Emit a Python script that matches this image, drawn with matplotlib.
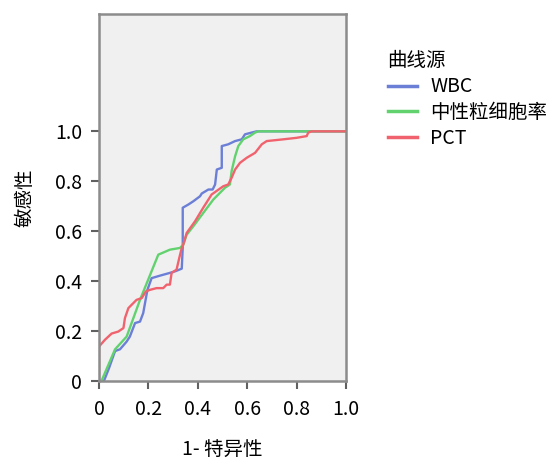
import matplotlib
matplotlib.use('Agg')
import matplotlib.pyplot as plt

plt.rcParams['font.family'] = ['Noto Sans CJK SC', 'DejaVu Sans']

# ROC 曲线数据 (1-特异性, 敏感性)
wbc_x = [0.0, 0.02, 0.04, 0.065, 0.085, 0.112, 0.125, 0.146, 0.166, 0.179, 0.196, 0.213,
         0.247, 0.287, 0.31, 0.335, 0.339, 0.339, 0.362, 0.382, 0.409, 0.416, 0.443, 0.46,
         0.47, 0.477, 0.497, 0.497, 0.523, 0.551, 0.578, 0.591, 0.618, 0.638, 1.0]
wbc_y = [0.0, 0.0, 0.05, 0.12, 0.127, 0.158, 0.178, 0.232, 0.238, 0.272, 0.365, 0.412,
         0.422, 0.433, 0.44, 0.45, 0.534, 0.694, 0.707, 0.72, 0.74, 0.751, 0.767, 0.767,
         0.787, 0.847, 0.854, 0.941, 0.948, 0.961, 0.968, 0.988, 0.995, 1.0, 1.0]

neu_x = [0.0, 0.01, 0.065, 0.112, 0.166, 0.24, 0.287, 0.328, 0.341, 0.355, 0.382, 0.422,
         0.463, 0.51, 0.53, 0.537, 0.551, 0.564, 0.584, 0.611, 0.632, 0.645, 1.0]
neu_y = [0.0, 0.0, 0.127, 0.178, 0.325, 0.506, 0.526, 0.533, 0.546, 0.586, 0.62, 0.673,
         0.727, 0.774, 0.787, 0.841, 0.9, 0.941, 0.968, 0.981, 0.995, 1.0, 1.0]

pct_x = [0.0, 0.0, 0.024, 0.051, 0.078, 0.099, 0.105, 0.119, 0.132, 0.152, 0.173, 0.19,
         0.206, 0.233, 0.26, 0.274, 0.287, 0.294, 0.314, 0.325, 0.335, 0.341, 0.355, 0.389,
         0.422, 0.456, 0.503, 0.523, 0.537, 0.551, 0.571, 0.598, 0.632, 0.659, 0.679, 0.746,
         0.8, 0.841, 0.847, 0.861, 1.0]
pct_y = [0.0, 0.138, 0.165, 0.19, 0.198, 0.212, 0.252, 0.292, 0.305, 0.325, 0.332, 0.359,
         0.365, 0.372, 0.372, 0.386, 0.386, 0.433, 0.446, 0.493, 0.533, 0.546, 0.593, 0.64,
         0.694, 0.747, 0.78, 0.787, 0.814, 0.847, 0.874, 0.894, 0.914, 0.948, 0.961, 0.968,
         0.974, 0.981, 0.995, 1.0, 1.0]

series = ['WBC', '中性粒细胞率', 'PCT']
colors = ['#6b7fd7', '#62d26f', '#f0636e']

fig = plt.figure(figsize=(5.47, 4.63), dpi=100)
ax = fig.add_axes([99/547, 1 - 381/463, 247/547, 367/463])
ax.set_facecolor('#f0f0f0')

for xs, ys, name, c in zip([wbc_x, neu_x, pct_x], [wbc_y, neu_y, pct_y], series, colors):
    ax.plot(xs, ys, color=c, lw=1.7, label=name)

ax.set_xlim(0, 1.0)
ax.set_ylim(0, 1.47)
ticks = [0, 0.2, 0.4, 0.6, 0.8, 1.0]
labels = ['0', '0.2', '0.4', '0.6', '0.8', '1.0']
ax.set_xticks(ticks)
ax.set_xticklabels(labels)
ax.set_yticks(ticks)
ax.set_yticklabels(labels)
ax.tick_params(length=6, width=1.5, color='#606060', labelsize=14)
ax.tick_params(axis='x', pad=7)
ax.tick_params(axis='y', pad=6)
for s in ax.spines.values():
    s.set_color('#8c8c8c')
    s.set_linewidth(1.8)

ax.set_xlabel('1- 特异性', fontsize=14, labelpad=14)
ax.set_ylabel('敏感性', fontsize=14, labelpad=14)

leg = ax.legend(title='曲线源', loc='upper left', bbox_to_anchor=(370/547, 1 - 33/463),
                bbox_transform=fig.transFigure, frameon=False, fontsize=14,
                title_fontsize=14, handlelength=1.5, labelspacing=0.25, handletextpad=0.7,
                alignment='left')
for line in leg.get_lines():
    line.set_linewidth(2.5)

fig.savefig('out.png', dpi=100)
